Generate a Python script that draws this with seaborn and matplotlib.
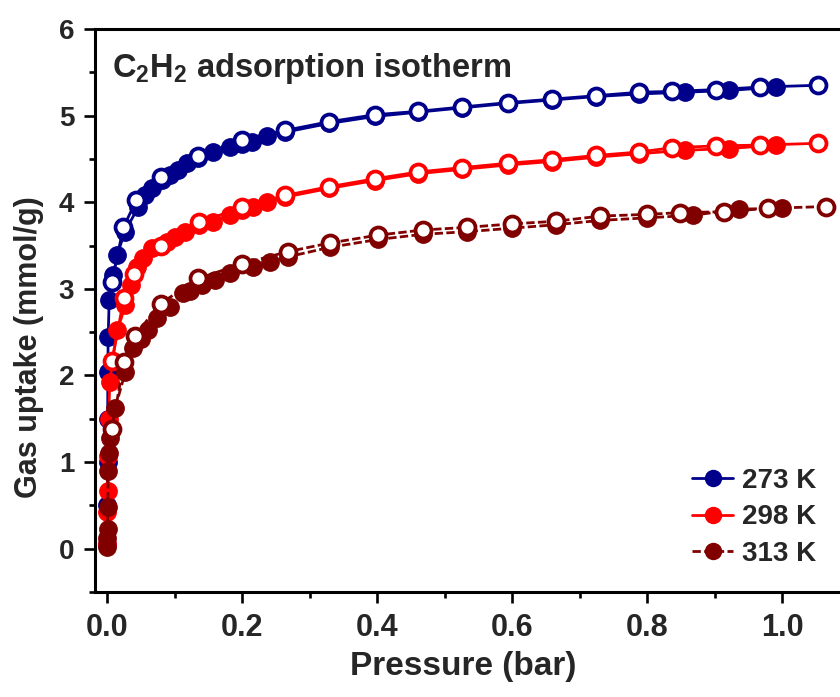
import seaborn as sns
import matplotlib.pyplot as plt
from matplotlib.lines import Line2D
from matplotlib import font_manager

# 273 K adsorption (filled) / desorption (open)
p_ads_273 = [0.0002, 0.0004, 0.0006, 0.0008, 0.001, 0.0015, 0.003, 0.009, 0.015, 0.026, 0.046, 0.056,
             0.067, 0.081, 0.093, 0.105, 0.118, 0.135, 0.157, 0.182, 0.2, 0.215, 0.237, 0.264, 0.329,
             0.396, 0.461, 0.526, 0.593, 0.658, 0.724, 0.788, 0.855, 0.921, 0.99]
q_ads_273 = [0.05, 0.5, 1.0, 1.5, 2.04, 2.44, 2.87, 3.16, 3.39, 3.66, 3.94, 4.08, 4.16, 4.26, 4.31,
             4.37, 4.45, 4.51, 4.58, 4.64, 4.67, 4.69, 4.77, 4.81, 4.91, 4.99, 5.04, 5.09, 5.14, 5.18,
             5.22, 5.25, 5.27, 5.29, 5.33]
p_des_273 = [1.052, 0.967, 0.901, 0.837, 0.788, 0.724, 0.658, 0.593, 0.526, 0.461, 0.396, 0.329,
             0.264, 0.2, 0.134, 0.079, 0.043, 0.024, 0.007]
q_des_273 = [5.35, 5.33, 5.30, 5.28, 5.27, 5.23, 5.19, 5.15, 5.10, 5.05, 5.01, 4.93, 4.83, 4.72,
             4.53, 4.29, 4.02, 3.71, 3.08]

# 298 K
p_ads_298 = [0.0002, 0.0005, 0.001, 0.0015, 0.002, 0.004, 0.008, 0.015, 0.027, 0.036, 0.044, 0.053,
             0.067, 0.079, 0.089, 0.101, 0.116, 0.136, 0.157, 0.182, 0.2, 0.216, 0.237, 0.264, 0.329,
             0.396, 0.461, 0.526, 0.593, 0.658, 0.724, 0.788, 0.855, 0.921, 0.99]
q_ads_298 = [0.05, 0.42, 0.67, 1.07, 1.50, 1.92, 2.17, 2.52, 2.81, 3.05, 3.25, 3.36, 3.47, 3.50,
             3.54, 3.60, 3.66, 3.74, 3.77, 3.85, 3.91, 3.94, 4.00, 4.06, 4.16, 4.25, 4.33, 4.38,
             4.43, 4.47, 4.52, 4.56, 4.60, 4.62, 4.66]
p_des_298 = [1.052, 0.967, 0.901, 0.837, 0.788, 0.724, 0.658, 0.593, 0.526, 0.461, 0.396, 0.329,
             0.264, 0.2, 0.136, 0.079, 0.040, 0.025, 0.007]
q_des_298 = [4.68, 4.66, 4.65, 4.63, 4.58, 4.54, 4.49, 4.45, 4.40, 4.35, 4.27, 4.18, 4.08, 3.94,
             3.77, 3.50, 3.17, 2.90, 2.17]

# 313 K
p_ads_313 = [0.0002, 0.0004, 0.0006, 0.001, 0.0015, 0.002, 0.004, 0.012, 0.027, 0.038, 0.050, 0.061,
             0.074, 0.093, 0.113, 0.123, 0.14, 0.16, 0.182, 0.216, 0.241, 0.268, 0.330, 0.401, 0.468,
             0.533, 0.599, 0.664, 0.730, 0.80, 0.868, 0.935, 1.0]
q_ads_313 = [0.02, 0.12, 0.23, 0.48, 0.90, 1.10, 1.28, 1.63, 2.04, 2.32, 2.42, 2.52, 2.66, 2.79,
             2.95, 2.98, 3.05, 3.10, 3.18, 3.25, 3.31, 3.37, 3.48, 3.57, 3.63, 3.66, 3.70, 3.74,
             3.79, 3.82, 3.85, 3.92, 3.93]
p_des_313 = [1.064, 0.979, 0.913, 0.849, 0.80, 0.730, 0.664, 0.599, 0.533, 0.468, 0.401, 0.330,
             0.268, 0.2, 0.135, 0.079, 0.041, 0.025, 0.007]
q_des_313 = [3.95, 3.93, 3.89, 3.88, 3.86, 3.84, 3.78, 3.75, 3.71, 3.68, 3.62, 3.53, 3.43, 3.29,
             3.12, 2.83, 2.46, 2.16, 1.38]

labels = ["273 K", "298 K", "313 K"]
colors = ["#00008B", "#FF0000", "#800000"]
styles = ["-", "-", (0, (3, 1.2))]

sns.set_theme(style="ticks")
names = {f.name for f in font_manager.fontManager.ttflist}
narrow = "Liberation Sans Narrow" if "Liberation Sans Narrow" in names else "Liberation Sans"
plt.rcParams["font.family"] = ["Liberation Sans", "DejaVu Sans"]
plt.rcParams["mathtext.fontset"] = "custom"
plt.rcParams["mathtext.bf"] = "Liberation Sans:bold"
plt.rcParams["mathtext.rm"] = "Liberation Sans:bold"

fig = plt.figure(figsize=(8.4, 6.97), dpi=100)
ax = fig.add_axes([95 / 840, 105 / 697, 755 / 840, 563 / 697])

series = [(p_ads_273, q_ads_273, p_des_273, q_des_273),
          (p_ads_298, q_ads_298, p_des_298, q_des_298),
          (p_ads_313, q_ads_313, p_des_313, q_des_313)]

for (pa, qa, pd_, qd), c, ls in zip(series, colors, styles):
    sns.lineplot(x=pa, y=qa, ax=ax, sort=False, estimator=None, color=c, linestyle=ls,
                 linewidth=2.0, marker="o", markersize=12.5, markerfacecolor=c,
                 markeredgecolor=c, markeredgewidth=1.0)
    sns.lineplot(x=pd_, y=qd, ax=ax, sort=False, estimator=None, color=c, linestyle=ls,
                 linewidth=2.0, marker="o", markersize=11.5, markerfacecolor="white",
                 markeredgecolor=c, markeredgewidth=2.7)

ax.set_xlim(-0.018, 1.1)
ax.set_ylim(-0.5, 6)
ax.set_xticks([0.0, 0.2, 0.4, 0.6, 0.8, 1.0])
ax.set_xticks([0.1, 0.3, 0.5, 0.7, 0.9], minor=True)
ax.set_yticks([0, 1, 2, 3, 4, 5, 6])
ax.set_yticks([-0.5, 0.5, 1.5, 2.5, 3.5, 4.5, 5.5], minor=True)
ax.set_xticklabels(["0.0", "0.2", "0.4", "0.6", "0.8", "1.0"],
                   fontfamily=narrow, fontweight="bold", fontsize=22)
ax.set_yticklabels(["0", "1", "2", "3", "4", "5", "6"], fontweight="bold", fontsize=20)

ax.tick_params(which="major", direction="out", length=8, width=1.9, color="black", pad=7)
ax.tick_params(which="minor", direction="out", length=4.5, width=1.9, color="black")
for s in ["left", "bottom", "top"]:
    ax.spines[s].set_linewidth(2.2)
    ax.spines[s].set_color("black")
ax.spines["right"].set_visible(False)

ax.set_xlabel("Pressure (bar)", fontfamily=narrow, fontweight="bold", fontsize=24)
ax.xaxis.set_label_coords((463 - 95) / 755, -0.105)
ax.set_ylabel("Gas uptake (mmol/g)", fontweight="bold", fontsize=22)
ax.yaxis.set_label_coords(-0.068, 0.435)

ax.text(0.022, 0.93, r"$\mathbf{C}$$\mathbf{_2}$$\mathbf{H}$$\mathbf{_2}$ adsorption isotherm",
        transform=ax.transAxes, fontsize=23.5, fontweight="bold", va="center", ha="left")

handles = [Line2D([], [], color=c, linestyle=ls, linewidth=2.0, marker="o", markersize=11.5)
           for c, ls in zip(colors, styles)]
ax.legend(handles, labels, loc="lower right", bbox_to_anchor=(0.978, 0.015), frameon=False,
          prop=dict(weight="bold", size=20), handlelength=1.45, handletextpad=0.35,
          labelspacing=0.38, borderaxespad=0.2)

fig.savefig("out.png", dpi=100, facecolor="white")
print("narrow font:", narrow)
